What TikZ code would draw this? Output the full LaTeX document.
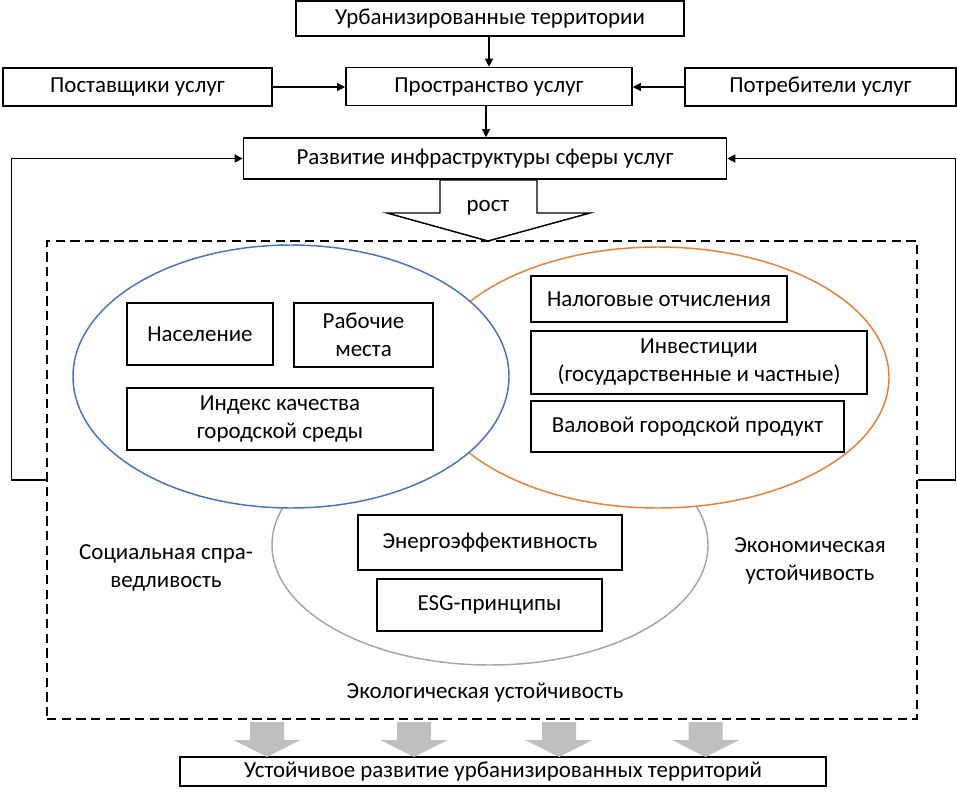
\documentclass[tikz,border=0pt]{standalone}
\usepackage{fontspec}
\setmainfont{Carlito}
\usetikzlibrary{arrows.meta,shapes.geometric}
\definecolor{socblue}{HTML}{4472C4}
\definecolor{ecoorange}{HTML}{ED7D31}
\definecolor{envgray}{HTML}{A5A5A5}
\definecolor{arrgray}{HTML}{BFBFBF}
\begin{document}
\begin{tikzpicture}[x=0.75pt,y=-0.75pt,
  font=\fontsize{17.2}{21}\selectfont,
  box/.style={draw, line width=1.2pt, fill=white, inner sep=0pt, align=center},
  conn/.style={line width=0.8pt, -{Triangle[length=6pt,width=6pt]}},
  sphere/.style={ellipse, draw, line width=1.1pt, fill=white, inner sep=0pt},
  grayarrow/.style={fill=arrgray, draw=none}
]
\useasboundingbox (0,0) rectangle (957,796);

% top row
\node[box, minimum width=291pt, minimum height=26.25pt] (urb) at (490,18.5) {Урбанизированные территории};
\node[box, minimum width=201.75pt, minimum height=28.5pt] (prov) at (137.5,87) {Поставщики услуг};
\node[box, minimum width=214.5pt, minimum height=28.5pt] (space) at (489,86.5) {Пространство услуг};
\node[box, minimum width=203.25pt, minimum height=28.5pt] (cons) at (820.5,87) {Потребители услуг};
\node[box, minimum width=362.25pt, minimum height=30.75pt] (dev) at (485,158.5) {Развитие инфраструктуры сферы услуг};

\draw[conn] (urb.south -| space.north) -- (space.north);
\draw[conn] (prov.east) -- (space.west |- prov.east);
\draw[conn] (cons.west) -- (space.east |- cons.west);
\draw[conn] (space.south -| 486,0) -- (dev.north -| 486,0);

% growth arrow
\draw[line width=1.1pt, fill=white, line join=miter]
  (440,180) -- (537,180) -- (537,213) -- (590,213) -- (488,241) -- (387,213) -- (440,213) -- cycle;
\node (rost) at (488,208) {рост};

% dashed frame
\node[draw, line width=1.1pt, dash pattern=on 7pt off 4pt, minimum width=652.5pt, minimum height=358.5pt, inner sep=0pt] (frame) at (482,480) {};

% feedback
\draw[conn] (frame.west) -- ++(-35,0) |- (dev.west);
\draw[conn] (frame.east) -- ++(38,0) |- (dev.east);

% spheres
\node[sphere, draw=envgray, minimum width=327pt, minimum height=180pt] (env) at (490,545) {};
\node[sphere, draw=ecoorange, minimum width=346.5pt, minimum height=195.75pt] (eco) at (658,377.5) {};
\node[sphere, draw=socblue, minimum width=327pt, minimum height=197.25pt] (soc) at (291,376.5) {};

% inner boxes
\node[box, minimum width=109.5pt, minimum height=46.5pt] (pop) at (200,334) {Население};
\node[box, minimum width=104.25pt, minimum height=48pt] (jobs) at (363.5,335) {Рабочие\\места};
\node[box, minimum width=229.5pt, minimum height=46.5pt] (idx) at (280,419) {Индекс качества\\городской среды};
\node[box, minimum width=192pt, minimum height=34.5pt] (tax) at (659,299) {Налоговые отчисления};
\node[box, minimum width=252pt, minimum height=47.25pt] (inv) at (699,362.5) {Инвестиции\\(государственные и частные)};
\node[box, minimum width=234.75pt, minimum height=38.25pt] (gdp) at (687.5,426.5) {Валовой городской продукт};
\node[box, minimum width=198pt, minimum height=41.25pt] (energy) at (490,542.5) {Энергоэффективность};
\node[box, minimum width=168.75pt, minimum height=39pt] (esg) at (489.5,605) {ESG-принципы};

% labels
\node[align=center] (soclab) at (166,568) {Социальная спра-\\ведливость};
\node[align=center] (ecolab) at (810,561) {Экономическая\\устойчивость};
\node (envlab) at (485,693) {Экологическая устойчивость};

% bottom
\node[box, minimum width=484.5pt, minimum height=21.75pt] (sust) at (503,771.5) {Устойчивое развитие урбанизированных территорий};
\foreach \cx/\nm in {267/ga1,414/ga2,559/ga3,705.5/ga4}{
  \coordinate (\nm) at (\cx,757);
  \fill[grayarrow] (\cx-17,722) -- (\cx+17,722) -- (\cx+17,740) -- (\cx+33.5,740) -- (\nm) -- (\cx-33.5,740) -- (\cx-17,740) -- cycle;
}
\end{tikzpicture}
\end{document}
